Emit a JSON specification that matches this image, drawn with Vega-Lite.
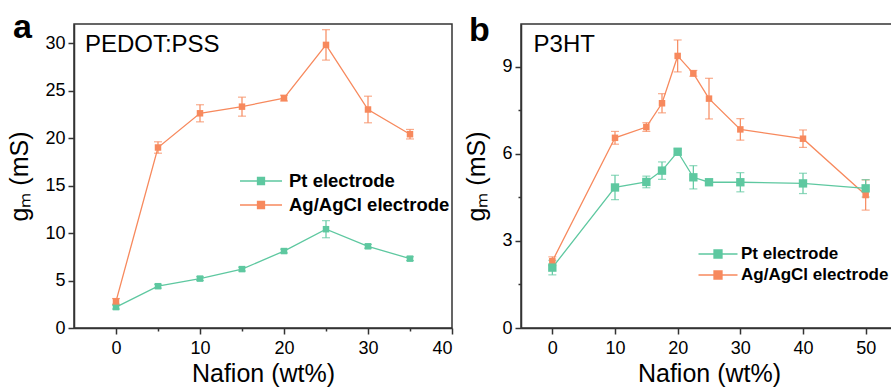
{
  "$schema": "https://vega.github.io/schema/vega-lite/v6.json",
  "padding": {"left": 7, "top": 10, "right": 0, "bottom": 0},
  "bounds": "flush",
  "spacing": 69,
  "background": "white",
  "config": {
    "font": "Liberation Sans",
    "view": {"stroke": "#333", "strokeWidth": 1.5},
    "axis": {"grid": false, "domainColor": "#333", "domainWidth": 1.5, "tickColor": "#333", "tickWidth": 1.5, "labelFontSize": 18, "labelColor": "black", "labelFont": "Liberation Sans", "titleFont": "Liberation Sans", "titleFontSize": 25, "titleFontWeight": "normal", "titleColor": "black", "labelPadding": 3},
    "legend": {"padding": 0, "labelLimit": 400}
  },
  "resolve": {"scale": {"color": "independent", "x": "independent", "y": "independent"}, "legend": {"color": "independent"}},
  "datasets": {
    "a": [
      {"x": 0, "y": 2.2, "e": 0.2, "series": "Pt electrode"},
      {"x": 5, "y": 4.4, "e": 0.2, "series": "Pt electrode"},
      {"x": 10, "y": 5.2, "e": 0.2, "series": "Pt electrode"},
      {"x": 15, "y": 6.2, "e": 0.2, "series": "Pt electrode"},
      {"x": 20, "y": 8.1, "e": 0.2, "series": "Pt electrode"},
      {"x": 25, "y": 10.4, "e": 0.9, "series": "Pt electrode"},
      {"x": 30, "y": 8.6, "e": 0.2, "series": "Pt electrode"},
      {"x": 35, "y": 7.3, "e": 0.2, "series": "Pt electrode"},
      {"x": 0, "y": 2.8, "e": 0.3, "series": "Ag/AgCl electrode"},
      {"x": 5, "y": 19.0, "e": 0.6, "series": "Ag/AgCl electrode"},
      {"x": 10, "y": 22.6, "e": 0.9, "series": "Ag/AgCl electrode"},
      {"x": 15, "y": 23.3, "e": 1.0, "series": "Ag/AgCl electrode"},
      {"x": 20, "y": 24.2, "e": 0.3, "series": "Ag/AgCl electrode"},
      {"x": 25, "y": 29.8, "e": 1.6, "series": "Ag/AgCl electrode"},
      {"x": 30, "y": 23.0, "e": 1.4, "series": "Ag/AgCl electrode"},
      {"x": 35, "y": 20.4, "e": 0.5, "series": "Ag/AgCl electrode"}
    ],
    "b": [
      {"x": 0, "y": 2.3, "e": 0.15, "series": "Ag/AgCl electrode"},
      {"x": 10, "y": 6.55, "e": 0.22, "series": "Ag/AgCl electrode"},
      {"x": 15, "y": 6.92, "e": 0.15, "series": "Ag/AgCl electrode"},
      {"x": 17.5, "y": 7.74, "e": 0.33, "series": "Ag/AgCl electrode"},
      {"x": 20, "y": 9.37, "e": 0.55, "series": "Ag/AgCl electrode"},
      {"x": 22.5, "y": 8.77, "e": 0.1, "series": "Ag/AgCl electrode"},
      {"x": 25, "y": 7.9, "e": 0.7, "series": "Ag/AgCl electrode"},
      {"x": 30, "y": 6.84, "e": 0.37, "series": "Ag/AgCl electrode"},
      {"x": 40, "y": 6.52, "e": 0.3, "series": "Ag/AgCl electrode"},
      {"x": 50, "y": 4.58, "e": 0.52, "series": "Ag/AgCl electrode"},
      {"x": 0, "y": 2.08, "e": 0.25, "series": "Pt electrode"},
      {"x": 10, "y": 4.84, "e": 0.42, "series": "Pt electrode"},
      {"x": 15, "y": 5.03, "e": 0.2, "series": "Pt electrode"},
      {"x": 17.5, "y": 5.42, "e": 0.3, "series": "Pt electrode"},
      {"x": 20, "y": 6.07, "e": 0.1, "series": "Pt electrode"},
      {"x": 22.5, "y": 5.19, "e": 0.4, "series": "Pt electrode"},
      {"x": 25, "y": 5.02, "e": 0.05, "series": "Pt electrode"},
      {"x": 30, "y": 5.02, "e": 0.33, "series": "Pt electrode"},
      {"x": 40, "y": 4.98, "e": 0.35, "series": "Pt electrode"},
      {"x": 50, "y": 4.81, "e": 0.3, "series": "Pt electrode"}
    ],
    "labelA": [{"label": "PEDOT:PSS", "lx": -3.7, "ly": 29.1}],
    "labelB": [{"label": "P3HT", "lx": -3.0, "ly": 9.5}]
  },
  "hconcat": [
    {
      "width": 378,
      "height": 304,
      "title": {"text": "a", "anchor": "start", "frame": "group", "fontSize": 34, "fontWeight": "bold", "color": "black", "dx": -61, "baseline": "alphabetic", "offset": 0, "dy": 48},
      "layer": [
        {
          "data": {"name": "a"},
          "encoding": {
            "x": {"field": "x", "type": "quantitative", "scale": {"domain": [-5, 40], "nice": false, "zero": false},
              "axis": {"title": "Nafion (wt%)", "values": [0, 5, 10, 15, 20, 25, 30, 35, 40], "labelExpr": "datum.value % 10 === 0 ? datum.label : ''", "tickSize": {"condition": {"test": "datum.value % 10 !== 0", "value": 3}, "value": 6}, "labelPadding": 5, "titlePadding": 4}},
            "y": {"field": "y", "type": "quantitative", "scale": {"domain": [0, 32], "nice": false},
              "axis": {"title": "gₘ (mS)", "values": [0, 2.5, 5, 7.5, 10, 12.5, 15, 17.5, 20, 22.5, 25, 27.5, 30], "labelExpr": "datum.value % 5 === 0 ? datum.label : ''", "tickSize": {"condition": {"test": "datum.value % 5 !== 0", "value": 3}, "value": 6}, "titlePadding": 12}},
            "color": {"field": "series", "type": "nominal", "scale": {"domain": ["Pt electrode", "Ag/AgCl electrode"], "range": ["#5ec8a0", "#f7895d"]},
              "legend": {"title": null, "orient": "none", "legendX": 176, "legendY": 146, "symbolType": "M-2.1,0H2.1M-0.35,-0.35H0.35V0.35H-0.35Z", "symbolSize": 400, "rowPadding": 3, "labelFontSize": 18.5, "labelFontWeight": "bold", "labelColor": "black", "labelOffset": 17, "labelFont": "Liberation Sans",
                "encode": {"symbols": {"update": {
                  "size": {"value": 400},
                  "fill": [{"test": "datum.value === 'Pt electrode'", "value": "#5ec8a0"}, {"value": "#f7895d"}],
                  "stroke": [{"test": "datum.value === 'Pt electrode'", "value": "#5ec8a0"}, {"value": "#f7895d"}],
                  "strokeWidth": {"value": 1.3}, "opacity": {"value": 1}}}}}}
          },
          "layer": [
            {"mark": {"type": "line", "strokeWidth": 1.3}},
            {"mark": {"type": "errorbar", "ticks": {"size": 8}, "thickness": 1.2}, "encoding": {"yError": {"field": "e"}}},
            {"mark": {"type": "square", "size": 42, "opacity": 1}}
          ]
        },
        {
          "data": {"name": "labelA"},
          "mark": {"type": "text", "fontSize": 24, "align": "left", "baseline": "alphabetic", "font": "Liberation Sans", "color": "black"},
          "encoding": {"x": {"field": "lx", "type": "quantitative"}, "y": {"field": "ly", "type": "quantitative"}, "text": {"field": "label"}}
        }
      ]
    },
    {
      "width": 376,
      "height": 304,
      "title": {"text": "b", "anchor": "start", "frame": "group", "fontSize": 34, "fontWeight": "bold", "color": "black", "dx": -52, "baseline": "alphabetic", "offset": 0, "dy": 51},
      "layer": [
        {
          "data": {"name": "b"},
          "encoding": {
            "x": {"field": "x", "type": "quantitative", "scale": {"domain": [-5, 55], "nice": false, "zero": false},
              "axis": {"title": "Nafion (wt%)", "values": [0, 5, 10, 15, 20, 25, 30, 35, 40, 45, 50], "labelExpr": "datum.value % 10 === 0 ? datum.label : ''", "tickSize": {"condition": {"test": "datum.value % 10 !== 0", "value": 3}, "value": 6}, "labelPadding": 5, "titlePadding": 4}},
            "y": {"field": "y", "type": "quantitative", "scale": {"domain": [0, 10.47], "nice": false},
              "axis": {"title": "gₘ (mS)", "values": [0, 1.5, 3, 4.5, 6, 7.5, 9], "labelExpr": "datum.value % 3 === 0 ? datum.label : ''", "tickSize": {"condition": {"test": "datum.value % 3 !== 0", "value": 3}, "value": 6}, "titlePadding": 12}},
            "color": {"field": "series", "type": "nominal", "scale": {"domain": ["Pt electrode", "Ag/AgCl electrode"], "range": ["#5ec8a0", "#f7895d"]},
              "legend": {"title": null, "orient": "none", "legendX": 186, "legendY": 219, "symbolType": "M-1.95,0H1.95M-0.4,-0.4H0.4V0.4H-0.4Z", "symbolSize": 400, "rowPadding": 2, "labelFontSize": 17, "labelFontWeight": "bold", "labelColor": "black", "labelOffset": 12, "labelFont": "Liberation Sans",
                "encode": {"symbols": {"update": {
                  "size": {"value": 400},
                  "fill": [{"test": "datum.value === 'Pt electrode'", "value": "#5ec8a0"}, {"value": "#f7895d"}],
                  "stroke": [{"test": "datum.value === 'Pt electrode'", "value": "#5ec8a0"}, {"value": "#f7895d"}],
                  "strokeWidth": {"value": 1.3}, "opacity": {"value": 1}}}}}}
          },
          "layer": [
            {"mark": {"type": "line", "strokeWidth": 1.3}},
            {"mark": {"type": "errorbar", "ticks": {"size": 8}, "thickness": 1.2}, "encoding": {"yError": {"field": "e"}}},
            {"mark": {"type": "square", "opacity": 1}, "encoding": {"size": {"field": "series", "type": "nominal", "scale": {"domain": ["Pt electrode", "Ag/AgCl electrode"], "range": [70, 42]}, "legend": null}}}
          ]
        },
        {
          "data": {"name": "labelB"},
          "mark": {"type": "text", "fontSize": 24, "align": "left", "baseline": "alphabetic", "font": "Liberation Sans", "color": "black"},
          "encoding": {"x": {"field": "lx", "type": "quantitative"}, "y": {"field": "ly", "type": "quantitative"}, "text": {"field": "label"}}
        }
      ]
    }
  ]
}
